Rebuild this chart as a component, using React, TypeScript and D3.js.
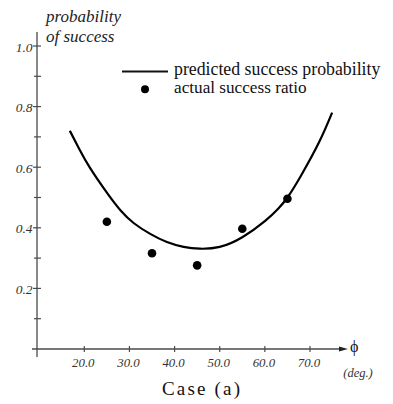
import React from "react";
import * as d3 from "d3";

const curvePhi = [16.8, 19, 21.3, 25, 28, 31, 34.6, 38.3, 42, 45.6, 50, 55, 60, 63, 65, 68, 72, 74.9];
const curveProb = [0.72, 0.657, 0.597, 0.516, 0.458, 0.415, 0.38, 0.353, 0.337, 0.331, 0.337, 0.369, 0.422, 0.464, 0.5, 0.572, 0.682, 0.78];
const pointPhi = [25, 35, 45, 55, 65];
const pointProb = [0.42, 0.316, 0.276, 0.397, 0.496];
const xTicks = [20, 30, 40, 50, 60, 70];
const yMajor = [0.2, 0.4, 0.6, 0.8, 1.0];
const yMinor = [0.1, 0.3, 0.5, 0.7, 0.9];

const W = 393, H = 404;

export default function App() {
  const x = d3.scaleLinear().domain([20, 70]).range([84.3, 310]);
  const y = d3.scaleLinear().domain([0, 1]).range([349, 46]);
  const axisX = 37;
  const axisY = y(0);
  const line = d3
    .line<number>()
    .x((_, i) => x(curvePhi[i]))
    .y((d) => y(d))
    .curve(d3.curveNatural);
  const axisColor = "#4a4a4a";
  const serif = "Liberation Serif";
  return (
    <svg width={W} height={H} style={{ position: "absolute", left: 0, top: 0, background: "#fff" }}>
      <line x1={axisX} x2={axisX} y1={32} y2={357} stroke={axisColor} strokeWidth={1.3} />
      <line x1={32} x2={341} y1={axisY} y2={axisY} stroke={axisColor} strokeWidth={1.3} />
      <path d={`M${339},${axisY - 2.6} L${348},${axisY} L${339},${axisY + 2.6} Z`} fill="#222" />
      {yMajor.map((v) => (
        <g key={"M" + v}>
          <line x1={axisX - 4} x2={axisX + 4} y1={y(v)} y2={y(v)} stroke={axisColor} strokeWidth={1.2} />
          <text x={32.5} y={y(v) + 5.5} textAnchor="end" fontFamily={serif} fontStyle="italic" fontSize={13.5} fill="#333">
            {v.toFixed(1)}
          </text>
        </g>
      ))}
      {yMinor.map((v) => (
        <line key={"m" + v} x1={axisX - 3} x2={axisX + 4} y1={y(v)} y2={y(v)} stroke={axisColor} strokeWidth={1.2} />
      ))}
      {xTicks.map((v) => (
        <g key={"x" + v}>
          <line x1={x(v)} x2={x(v)} y1={axisY - 3} y2={axisY + 3} stroke={axisColor} strokeWidth={1.2} />
          <text x={x(v) - 1} y={367} textAnchor="middle" fontFamily={serif} fontStyle="italic" fontSize={12.8} fill="#333">
            {v.toFixed(1)}
          </text>
        </g>
      ))}
      <text x={350} y={352} fontFamily={serif} fontSize={16} fill="#111">ϕ</text>
      <text x={358} y={376.5} textAnchor="middle" fontFamily={serif} fontStyle="italic" fontSize={12.5} fill="#333">(deg.)</text>
      <text x={46} y={22} fontFamily={serif} fontStyle="italic" fontSize={17} fill="#222">probability</text>
      <text x={46} y={41.5} fontFamily={serif} fontStyle="italic" fontSize={17} fill="#222">of success</text>
      <line x1={122} x2={168} y1={71.5} y2={71.5} stroke="#111" strokeWidth={2} />
      <text x={174} y={75} fontFamily={serif} fontSize={17.8} fill="#111">predicted success probability</text>
      <circle cx={145} cy={89.3} r={4} fill="#000" />
      <text x={174} y={92.5} fontFamily={serif} fontSize={17.2} fill="#111">actual success ratio</text>
      <path d={line(curveProb) || ""} fill="none" stroke="#000" strokeWidth={2.2} />
      {pointPhi.map((p, i) => (
        <circle key={"p" + i} cx={x(p)} cy={y(pointProb[i])} r={4.3} fill="#000" />
      ))}
      <text x={201} y={394.5} textAnchor="middle" fontFamily={serif} fontSize={19} fill="#111" textLength={78} lengthAdjust="spacing">
        Case (a)
      </text>
    </svg>
  );
}
